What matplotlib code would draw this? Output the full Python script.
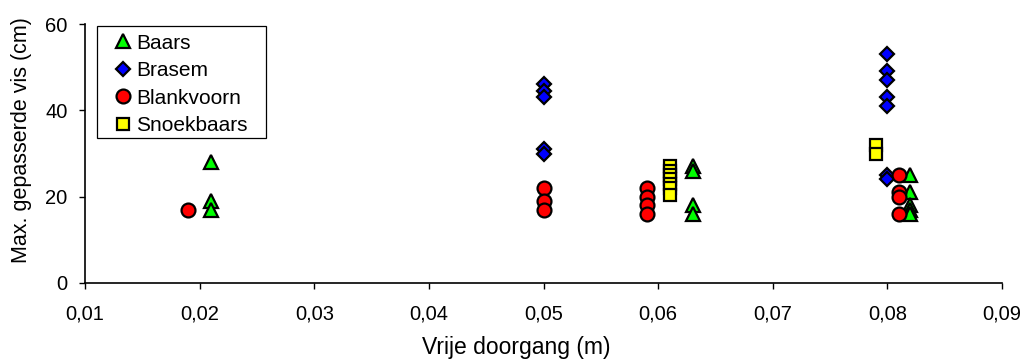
import matplotlib.pyplot as plt
from matplotlib.patches import Rectangle
from matplotlib.ticker import FuncFormatter

plt.rcParams['font.family'] = ['Liberation Sans', 'DejaVu Sans']

# Data: x = vrije doorgang (m), y = max. gepasserde vis (cm)
baars_x = [0.021, 0.021, 0.021, 0.063, 0.063, 0.063, 0.063, 0.082, 0.082, 0.082, 0.082, 0.082]
baars_y = [28, 19, 17, 27, 26, 18, 16, 25, 21, 18, 17, 16]

brasem_x = [0.05, 0.05, 0.05, 0.05, 0.05, 0.08, 0.08, 0.08, 0.08, 0.08, 0.08, 0.08]
brasem_y = [46, 44.5, 43, 31, 30, 53, 49, 47, 43, 41, 25, 24]

blank_x = [0.019, 0.05, 0.05, 0.05, 0.059, 0.059, 0.059, 0.059, 0.081, 0.081, 0.081, 0.081]
blank_y = [17, 22, 19, 17, 22, 20, 18, 16, 25, 21, 20, 16]

snoek_x = [0.061, 0.061, 0.061, 0.061, 0.061, 0.061, 0.061, 0.079, 0.079]
snoek_y = [27, 26, 25, 24, 23, 22, 20.5, 32, 30]

xticks = [0.01, 0.02, 0.03, 0.04, 0.05, 0.06, 0.07, 0.08, 0.09]
yticks = [0, 20, 40, 60]

fig = plt.figure(figsize=(10.28, 3.6), dpi=100)
ax = fig.add_axes([0.0827, 0.2139, 0.892, 0.7194])

ax.plot(baars_x, baars_y, ls='none', marker='^', ms=10, mfc='#00FF00', mec='black', mew=1.6, label='Baars')
ax.plot(brasem_x, brasem_y, ls='none', marker='D', ms=7, mfc='#0000FF', mec='black', mew=1.6, label='Brasem')
ax.plot(blank_x, blank_y, ls='none', marker='o', ms=10, mfc='#FF0000', mec='black', mew=1.6, label='Blankvoorn')
ax.plot(snoek_x, snoek_y, ls='none', marker='s', ms=9, mfc='#FFFF00', mec='black', mew=1.6, label='Snoekbaars')

ax.set_xlim(0.01, 0.09)
ax.set_ylim(0, 60)
ax.set_xticks(xticks)
ax.set_yticks(yticks)
ax.xaxis.set_major_formatter(FuncFormatter(lambda v, p: f'{v:.2f}'.replace('.', ',')))
ax.tick_params(direction='out', length=4.5, width=1, labelsize=14.5)
ax.tick_params(axis='x', pad=11)
ax.tick_params(axis='y', pad=8)

for s in ['top', 'right']:
    ax.spines[s].set_visible(False)
for s in ['left', 'bottom']:
    ax.spines[s].set_linewidth(1.2)

ax.set_xlabel('Vrije doorgang (m)', fontsize=16.5)
ax.set_ylabel('Max. gepasserde vis (cm)', fontsize=15.5)
ax.xaxis.set_label_coords(0.47, -0.205)
ax.yaxis.set_label_coords(-0.058, 0.55)

# legend without its own frame, box drawn separately to match the wide layout
leg = ax.legend(loc='upper left', bbox_to_anchor=(0.013, 0.983), fontsize=15, frameon=False,
                handlelength=2.0, handletextpad=-0.37,
                borderpad=0.25, labelspacing=0.41, borderaxespad=0)
ax.add_patch(Rectangle((0.0131, 0.5598), 0.1843, 0.4325, transform=ax.transAxes,
                       facecolor='white', edgecolor='black', lw=0.9, zorder=4.5, clip_on=False))

fig.savefig('out.png', dpi=100)
